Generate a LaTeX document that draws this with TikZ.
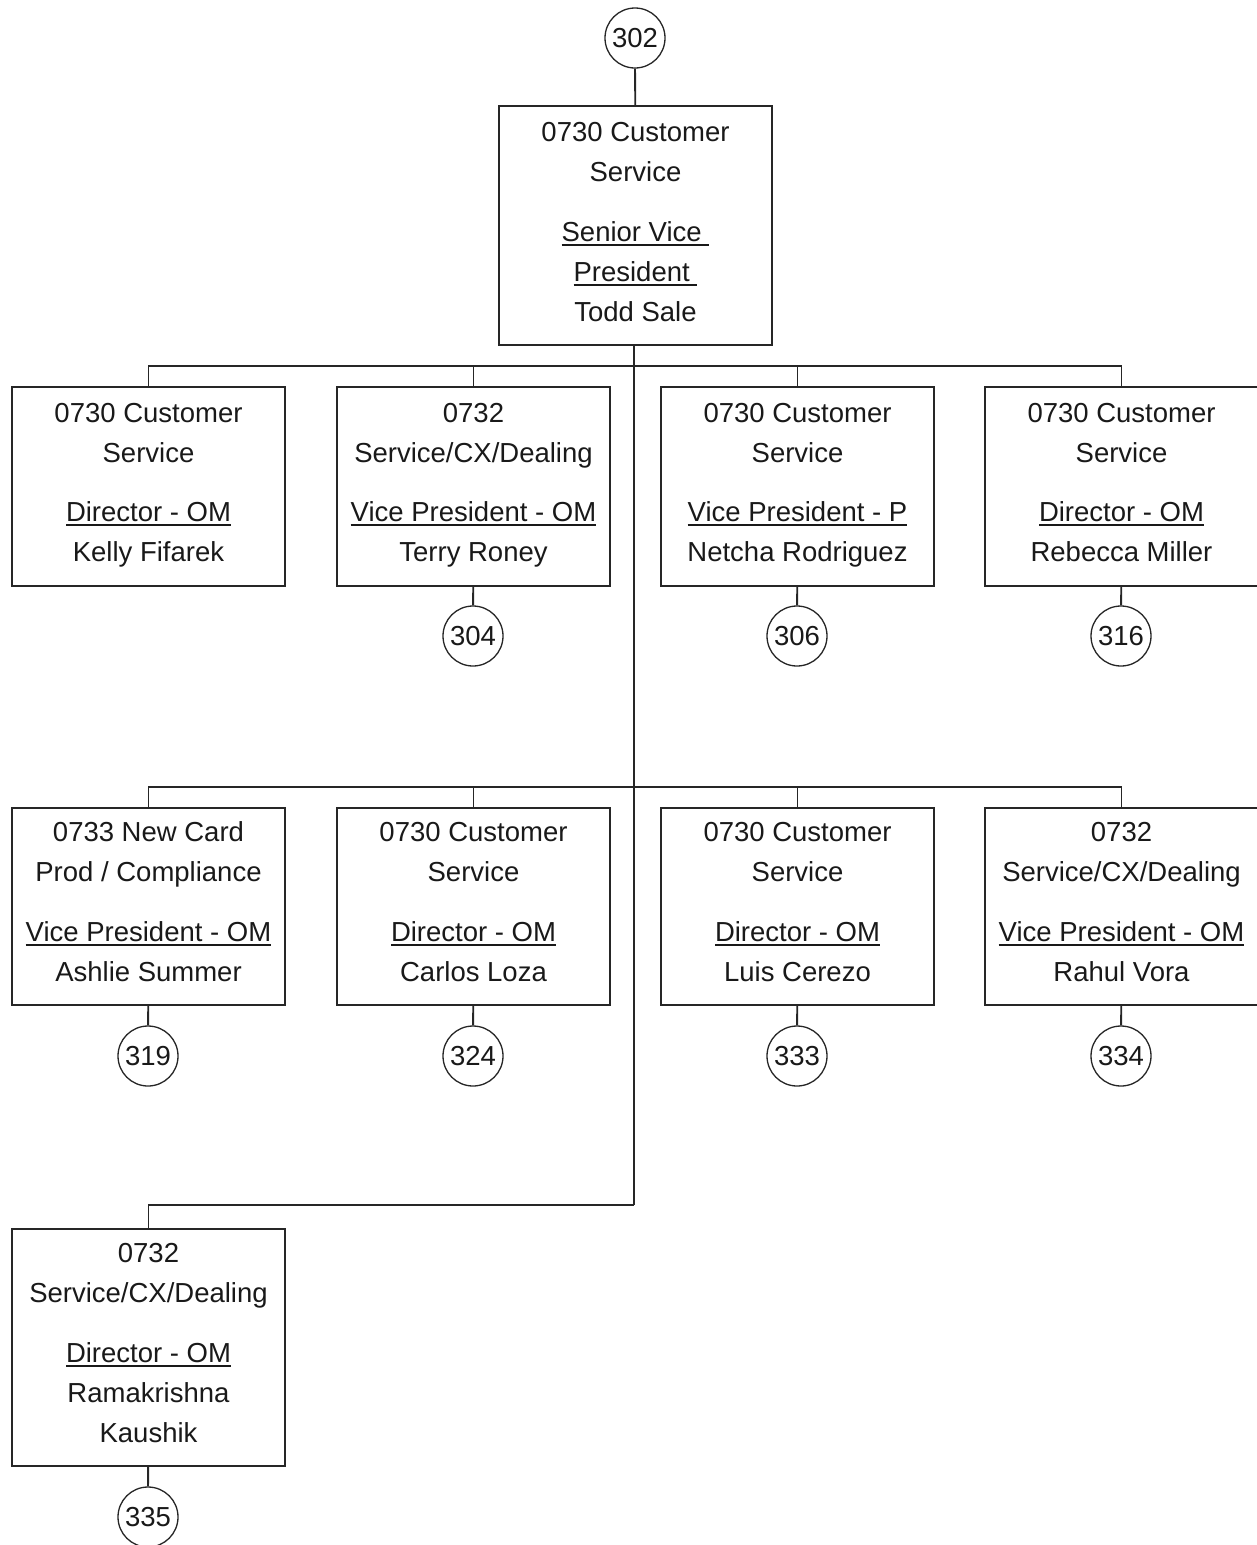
\documentclass[tikz,border=0pt]{standalone}
\usepackage{fontspec}
\setmainfont{Liberation Sans}
\newcommand\ulpos[1]{\setbox0\hbox{#1}\rlap{\rule[-5pt]{\wd0}{1.6pt}}\box0}
\begin{document}
\begin{tikzpicture}[x=1pt,y=-1pt,
  line width=1.8pt, draw=black!85, text=black!90,
  font=\fontsize{27.5}{40}\selectfont,
  unit/.style={draw, rectangle, minimum width=273pt, inner sep=0pt},
  txt/.style={anchor=north, inner sep=0pt, align=center,
    execute at begin node=\strut, execute at end node=\strut},
  ref/.style={draw, circle, minimum size=60pt, inner sep=0pt, line width=1.3pt},
  link/.style={line width=1.8pt}]
\useasboundingbox (0,0) rectangle (1257,1545);

% head of the unit
\node[ref] (c302) at (635,38) {302};
\node[unit, minimum height=239pt] (top) at (635.5,225.5) {};
\node[txt] (top-t) at ([yshift=-7pt]top.north)
  {0730 Customer\strut\\Service\strut\\[20pt]\ulpos{Senior Vice\ }\strut\\\ulpos{President\ }\strut\\Todd Sale};

% first row of reports
\node[unit, minimum height=199pt] (a1) at (148.5,486.5) {};
\node[unit, minimum height=199pt] (a2) at (473.5,486.5) {};
\node[unit, minimum height=199pt] (a3) at (797.5,486.5) {};
\node[unit, minimum height=199pt] (a4) at (1121.5,486.5) {};
\node[txt] (a1-t) at ([yshift=-7pt]a1.north) {0730 Customer\strut\\Service\strut\\[19pt]\ulpos{Director - OM}\strut\\Kelly Fifarek};
\node[txt] (a2-t) at ([yshift=-7pt]a2.north) {0732\strut\\Service/CX/Dealing\strut\\[19pt]\ulpos{Vice President - OM}\strut\\Terry Roney};
\node[txt] (a3-t) at ([yshift=-7pt]a3.north) {0730 Customer\strut\\Service\strut\\[19pt]\ulpos{Vice President - P}\strut\\Netcha Rodriguez};
\node[txt] (a4-t) at ([yshift=-7pt]a4.north) {0730 Customer\strut\\Service\strut\\[19pt]\ulpos{Director - OM}\strut\\Rebecca Miller};
\node[ref] (c304) at (473,636) {304};
\node[ref] (c306) at (797,636) {306};
\node[ref] (c316) at (1121,636) {316};

% second row of reports
\node[unit, minimum height=197pt] (b1) at (148.5,906.5) {};
\node[unit, minimum height=197pt] (b2) at (473.5,906.5) {};
\node[unit, minimum height=197pt] (b3) at (797.5,906.5) {};
\node[unit, minimum height=197pt] (b4) at (1121.5,906.5) {};
\node[txt] (b1-t) at ([yshift=-5pt]b1.north) {0733 New Card\strut\\Prod / Compliance\strut\\[20pt]\ulpos{Vice President - OM}\strut\\Ashlie Summer};
\node[txt] (b2-t) at ([yshift=-5pt]b2.north) {0730 Customer\strut\\Service\strut\\[20pt]\ulpos{Director - OM}\strut\\Carlos Loza};
\node[txt] (b3-t) at ([yshift=-5pt]b3.north) {0730 Customer\strut\\Service\strut\\[20pt]\ulpos{Director - OM}\strut\\Luis Cerezo};
\node[txt] (b4-t) at ([yshift=-5pt]b4.north) {0732\strut\\Service/CX/Dealing\strut\\[20pt]\ulpos{Vice President - OM}\strut\\Rahul Vora};
\node[ref] (c319) at (148,1056) {319};
\node[ref] (c324) at (473,1056) {324};
\node[ref] (c333) at (797,1056) {333};
\node[ref] (c334) at (1121,1056) {334};

% third row
\node[unit, minimum height=237pt] (d1) at (148.5,1347.5) {};
\node[txt] (d1-t) at ([yshift=-5pt]d1.north) {0732\strut\\Service/CX/Dealing\strut\\[20pt]\ulpos{Director - OM}\strut\\Ramakrishna\strut\\Kaushik};
\node[ref] (c335) at (148,1517) {335};

% bus junctions on the trunk
\coordinate (j1) at (634,366);
\coordinate (j2) at (634,787);
\coordinate (j3) at (634,1205);

\draw[link] (c302) -- (top);
\draw[link] (top.south -| j1) -- (j3);
\foreach \n in {a1,a2,a3,a4} \draw[link] (j1) -| (\n.north);
\foreach \n in {b1,b2,b3,b4} \draw[link] (j2) -| (\n.north);
\draw[link] (j3) -| (d1.north);
\draw[link] (a2) -- (c304);
\draw[link] (a3) -- (c306);
\draw[link] (a4) -- (c316);
\draw[link] (b1) -- (c319);
\draw[link] (b2) -- (c324);
\draw[link] (b3) -- (c333);
\draw[link] (b4) -- (c334);
\draw[link] (d1) -- (c335);
\end{tikzpicture}
\end{document}
